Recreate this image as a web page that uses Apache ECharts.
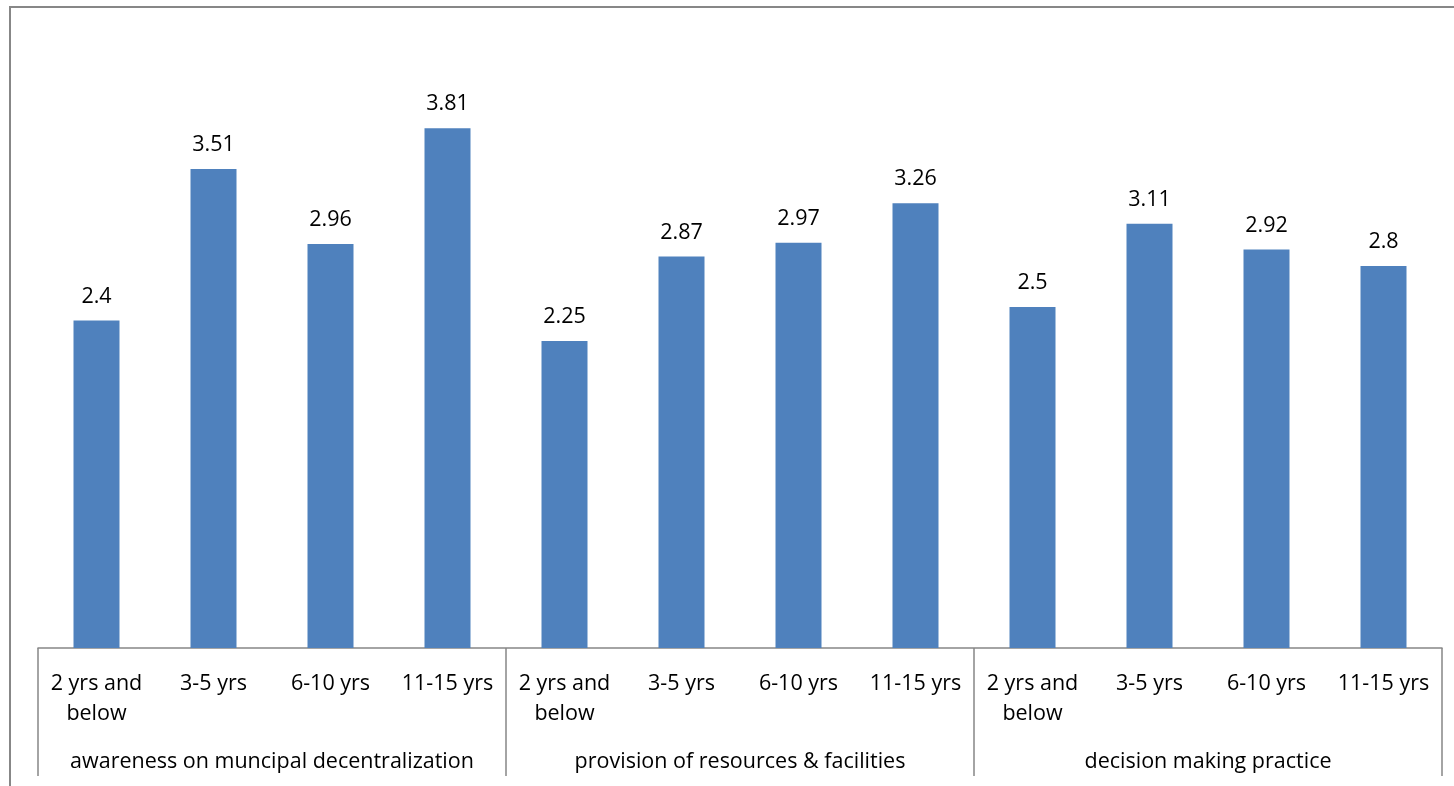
<!DOCTYPE html>
<html>
<head>
<meta charset="utf-8">
<script src="https://cdn.jsdelivr.net/npm/echarts@6/dist/echarts.min.js"></script>
<style>
html,body{margin:0;padding:0;background:#fff;}
#chart{width:1454px;height:786px;}
</style>
</head>
<body>
<div id="chart"></div>
<script>
const subCategories = ["2 yrs and\nbelow","3-5 yrs","6-10 yrs","11-15 yrs","2 yrs and\nbelow","3-5 yrs","6-10 yrs","11-15 yrs","2 yrs and\nbelow","3-5 yrs","6-10 yrs","11-15 yrs"];
const groups = ["awareness on muncipal decentralization","provision of resources & facilities","decision making practice"];
const values = [2.4,3.51,2.96,3.81,2.25,2.87,2.97,3.26,2.5,3.11,2.92,2.8];

const font = "'Open Sans', 'Liberation Sans', sans-serif";
const chart = echarts.init(document.getElementById('chart'));
chart.setOption({
  animation:false,
  graphic:[{type:'rect',shape:{x:10,y:7,width:1460,height:800},style:{fill:'none',stroke:'#878787',lineWidth:2},silent:true}],
  grid:{left:38,right:12,top:34,bottom:138},
  xAxis:[
    {type:'category',data:subCategories,position:'bottom',
     axisLine:{show:true,lineStyle:{color:'#868686',width:1.5}},
     axisTick:{show:false},
     axisLabel:{color:'#000',fontFamily:font,fontSize:21.5,lineHeight:30,margin:21,interval:0}},
    {type:'category',data:groups,position:'bottom',
     axisLine:{show:false},
     axisTick:{show:true,length:128,lineStyle:{color:'#868686',width:1.5}},
     axisLabel:{color:'#000',fontFamily:font,fontSize:21.5,margin:103,interval:0}}
  ],
  yAxis:{type:'value',min:0,max:4.5,interval:0.5,show:false,splitLine:{show:false}},
  series:[{type:'bar',data:values,xAxisIndex:0,barWidth:46,
    itemStyle:{color:'#4F81BD'},
    label:{show:true,position:'top',distance:13,color:'#000',fontFamily:font,fontSize:21.5}}]
});
</script>
</body>
</html>
